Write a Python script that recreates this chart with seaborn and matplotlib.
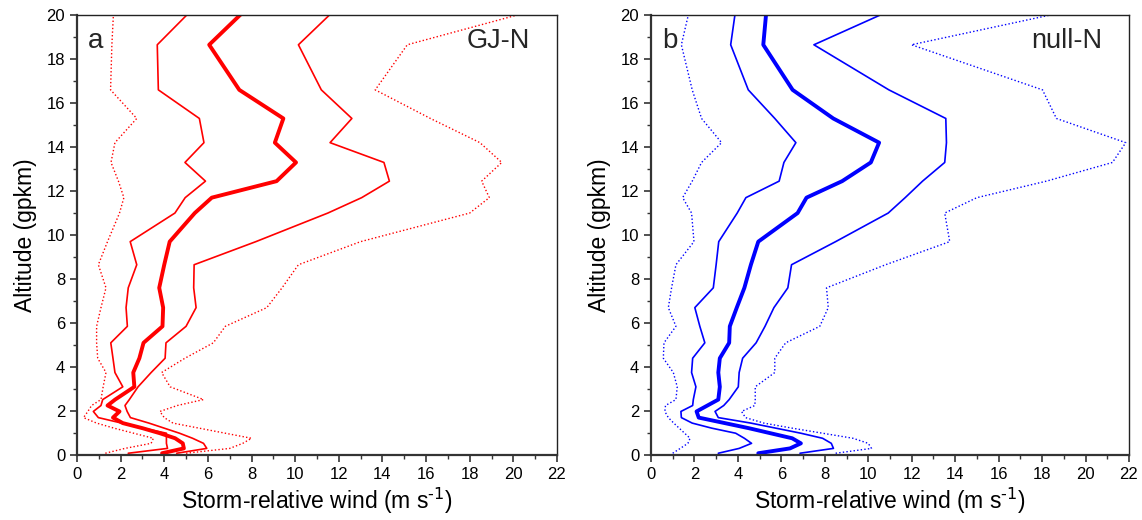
import numpy as np
import pandas as pd
import seaborn as sns
import matplotlib.pyplot as plt
from matplotlib.ticker import MultipleLocator

# altitude of the profile levels (gpkm)
alt_km = [0.08, 0.3, 0.53, 0.76, 0.99, 1.22, 1.45, 1.7, 1.98, 2.25, 2.52, 3.1, 3.75,
          4.4, 5.1, 5.85, 6.7, 7.6, 8.65, 9.7, 11.0, 11.7, 12.45, 13.3, 14.2, 15.3,
          16.6, 18.65, 20.6]

# GJ-N storm-relative wind percentiles (m s-1)
gj_p10 = [1.3, 2.2, 3.4, 3.5, 2.6, 1.7, 0.9, 0.3, 0.5, 0.67, 1.1, 1.2, 1.33,
          0.95, 0.9, 0.9, 1.1, 1.33, 0.98, 1.4, 1.95, 2.15, 1.9, 1.56, 1.74, 2.74,
          1.54, 1.6, 1.7]
gj_p25 = [2.35, 4.15, 4.1, 4.1, 4.1, 3.05, 2.05, 0.98, 0.75, 1.1, 1.18, 2.1, 1.74,
          1.65, 1.55, 2.31, 2.25, 2.35, 2.74, 2.44, 4.49, 4.96, 5.89, 4.95, 5.82, 5.61,
          3.73, 3.68, 5.63]
gj_p50 = [3.9, 4.9, 4.85, 4.5, 3.8, 3.0, 2.1, 1.65, 1.95, 1.4, 1.75, 2.63, 2.58,
          2.86, 3.05, 3.92, 3.95, 3.77, 4.0, 4.25, 5.4, 6.18, 9.15, 10.04, 9.07, 9.46,
          7.44, 6.06, 8.1]
gj_p75 = [4.57, 5.95, 5.8, 5.3, 4.7, 4.0, 3.3, 2.45, 2.3, 2.2, 2.4, 2.8, 3.4,
          4.04, 4.08, 5.0, 5.46, 5.35, 5.37, 8.2, 11.5, 13.05, 14.32, 14.07, 11.6, 12.6,
          11.2, 10.15, 12.2]
gj_p90 = [5.0, 7.0, 7.6, 8.0, 6.8, 5.6, 4.4, 4.0, 3.8, 4.6, 5.8, 4.27, 3.88,
          4.95, 6.25, 6.8, 8.7, 9.4, 10.15, 13.0, 18.0, 18.9, 18.55, 19.47, 18.47, 16.2,
          13.67, 15.14, 22.4]

# null-N storm-relative wind percentiles (m s-1)
null_p10 = [1.0, 1.35, 1.7, 1.8, 1.55, 1.3, 1.05, 0.8, 0.64, 0.67, 1.15, 1.21, 1.03,
            0.57, 0.6, 1.15, 0.8, 0.95, 1.15, 1.98, 1.87, 1.46, 1.9, 2.33, 3.25, 2.33,
            1.9, 1.4, 1.86]
null_p25 = [3.1, 4.06, 4.63, 4.3, 3.9, 2.8, 1.9, 1.4, 1.38, 1.92, 1.95, 2.07, 1.87,
            1.92, 2.48, 2.25, 2.02, 2.87, 3.0, 3.12, 3.97, 4.37, 5.9, 6.12, 6.67, 5.7,
            4.48, 3.67, 3.95]
null_p50 = [4.94, 6.4, 6.9, 6.5, 5.5, 4.5, 3.4, 2.2, 2.1, 2.6, 3.1, 3.17, 3.1,
            3.17, 3.6, 3.63, 3.95, 4.3, 4.6, 4.94, 6.75, 7.16, 8.8, 10.12, 10.5, 8.39,
            6.52, 5.17, 5.35]
null_p75 = [6.86, 8.4, 8.3, 7.9, 6.9, 5.75, 4.6, 3.1, 2.95, 3.35, 3.6, 4.02, 4.06,
            4.22, 4.84, 5.25, 5.66, 6.3, 6.47, 8.5, 10.92, 11.7, 12.5, 13.52, 13.6, 13.57,
            10.95, 7.5, 11.9]
null_p90 = [8.5, 10.15, 10.0, 9.3, 7.9, 6.5, 5.2, 4.35, 4.17, 4.78, 4.8, 4.8, 5.7,
            5.7, 6.2, 7.77, 8.16, 8.08, 10.8, 13.75, 13.52, 15.0, 18.2, 21.24, 21.85, 18.66,
            18.02, 11.99, 21.2]

sns.set_style('ticks')
plt.rcParams['font.family'] = ['Liberation Sans', 'DejaVu Sans']

fig = plt.figure(figsize=(11.42, 5.2), dpi=100)
ax_a = fig.add_axes([0.0674, 0.125, 0.4203, 0.846])
ax_b = fig.add_axes([0.570, 0.125, 0.4186, 0.846])

dotted = (0, (1, 1.6))
panels = [
    (ax_a, 'red', [gj_p10, gj_p25, gj_p50, gj_p75, gj_p90], 'a', 'GJ-N'),
    (ax_b, 'blue', [null_p10, null_p25, null_p50, null_p75, null_p90], 'b', 'null-N'),
]
styles = [(dotted, 1.0), ('-', 1.2), ('-', 2.8), ('-', 1.2), (dotted, 1.0)]

for ax, col, series, letter, name in panels:
    for vals, (ls, lw) in zip(series, styles):
        df = pd.DataFrame({'wind': vals, 'alt': alt_km})
        sns.lineplot(data=df, x='wind', y='alt', orient='y', estimator=None,
                     color=col, lw=lw, linestyle=ls, ax=ax)
    ax.set_xlim(0, 22)
    ax.set_ylim(0, 20)
    ax.xaxis.set_major_locator(MultipleLocator(2))
    ax.xaxis.set_minor_locator(MultipleLocator(1))
    ax.yaxis.set_major_locator(MultipleLocator(2))
    ax.yaxis.set_minor_locator(MultipleLocator(1))
    ax.tick_params(which='major', direction='out', length=5, width=1.2,
                   labelsize=12, color='#333333', labelcolor='black')
    ax.tick_params(which='minor', direction='out', length=3, width=1.0, color='#333333')
    for side in ['left', 'bottom']:
        ax.spines[side].set_linewidth(1.6)
        ax.spines[side].set_color('#333333')
    for side in ['top', 'right']:
        ax.spines[side].set_linewidth(1.0)
        ax.spines[side].set_color('#222222')
    ax.set_xlabel('Storm-relative wind (m s$^{\\text{-1}}$)', fontsize=16.5,
                  labelpad=3, color='black')
    ax.set_ylabel('Altitude (gpkm)', fontsize=16.5, labelpad=7, color='black')
    ax.text(0.023, 0.94, letter, transform=ax.transAxes, fontsize=20, va='center', ha='left')
    ax.text(0.944, 0.94, name, transform=ax.transAxes, fontsize=19.5, va='center', ha='right')

fig.savefig('out.png', dpi=100)
